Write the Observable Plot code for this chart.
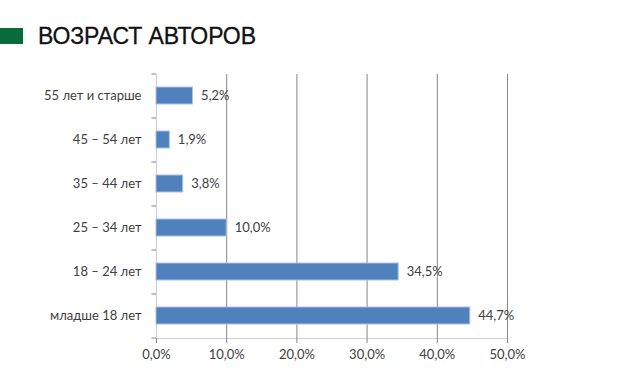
<!DOCTYPE html>
<html>
<head>
<meta charset="utf-8">
<script src="https://cdn.jsdelivr.net/npm/d3@7"></script>
<script src="https://cdn.jsdelivr.net/npm/@observablehq/plot@0.6"></script>
<style>
  html, body { margin: 0; padding: 0; background: #fff; }
  #wrap { position: relative; width: 630px; height: 376px; overflow: hidden; }
  #title { position: absolute; left: 0; top: 21px; height: 30px; display: flex; align-items: center; }
  #title .sq { width: 23px; height: 16px; background: #0a6b3a; margin-right: 15px; }
  #title .tx { font-family: "Liberation Sans", Arial, sans-serif; font-size: 23px; color: #111; letter-spacing: -0.1px; -webkit-text-stroke: 0.3px #111; }
  #chart { position: absolute; left: 0; top: 0; }
</style>
</head>
<body>
<div id="wrap">
  <div id="chart"></div>
  <div id="title"><div class="sq"></div><div class="tx">ВОЗРАСТ АВТОРОВ</div></div>
</div>
<script>
const categories = ["55 лет и старше", "45 – 54 лет", "35 – 44 лет", "25 – 34 лет", "18 – 24 лет", "младше 18 лет"];
const values = [5.2, 1.9, 3.8, 10.0, 34.5, 44.7];
const xTicks = [0, 10, 20, 30, 40, 50];

const data = categories.map((c, i) => ({cat: c, v: values[i]}));
const fmt = v => v.toFixed(1).replace(".", ",") + "%";
const font = "Lato, 'Open Sans', sans-serif";
const band = (338 - 74) / categories.length;

const chart = Plot.plot({
  width: 630,
  height: 376,
  marginTop: 74,
  marginBottom: 38,
  marginLeft: 156,
  marginRight: 123,
  style: {fontFamily: font, fontSize: "13px", color: "#404040", background: "transparent"},
  x: {domain: [0, 50], ticks: xTicks, tickFormat: fmt, label: null},
  y: {domain: categories, paddingInner: 0.61, paddingOuter: 0.305, align: 0.5, label: null},
  marks: [
    Plot.ruleX(xTicks.filter(d => d > 0), {stroke: "#868686", strokeWidth: 1}),
    Plot.ruleX([0], {stroke: "#d0d0d0", strokeWidth: 1.2}),
    Plot.frame({anchor: "bottom", stroke: "#d0d0d0", strokeWidth: 1.2}),
    Plot.ruleY(categories, {y: d => d, x1: -0.65, x2: 0, dy: -band / 2, stroke: "#868686"}),
    Plot.ruleY(categories.slice(-1), {y: d => d, x1: -0.65, x2: 0, dy: band / 2, stroke: "#868686"}),
    Plot.barX(data, {x: "v", y: "cat", fill: "#4f81bd", stroke: "#a9c1df", strokeWidth: 1}),
    Plot.text(data, {x: "v", y: "cat", text: d => fmt(d.v), textAnchor: "start", dx: 8, fill: "#404040", fontSize: 13}),
    Plot.axisX({ticks: xTicks, tickFormat: fmt, tickSize: 5, tickPadding: 6, stroke: "#868686", fill: "#404040", fontSize: 13, label: null}),
    Plot.axisY({tickSize: 0, tickPadding: 15, fill: "#404040", fontSize: 13, label: null})
  ]
});
document.getElementById("chart").appendChild(chart);
</script>
</body>
</html>
